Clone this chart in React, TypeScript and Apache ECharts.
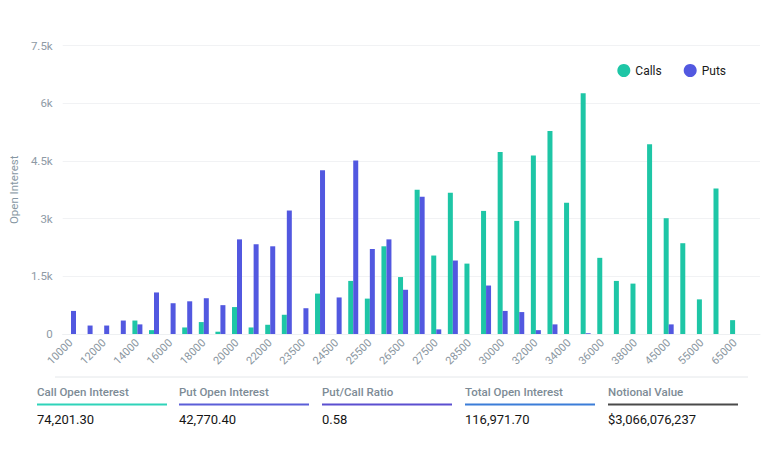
import React, { useEffect, useRef } from "react";
import * as echarts from "echarts";

const strikes = [
  "10000", "11000", "12000", "13000", "14000", "15000", "16000", "17000", "18000", "19000",
  "20000", "21000", "22000", "23000", "23500", "24000", "24500", "25000", "25500", "26000",
  "26500", "27000", "27500", "28000", "28500", "29000", "30000", "31000", "32000", "33000",
  "34000", "35000", "36000", "37000", "38000", "40000", "45000", "50000", "55000", "60000",
  "65000",
];

const callsOI = [
  0, 0, 0, 0, 350, 100, 0, 170, 310, 60,
  700, 170, 240, 500, 0, 1050, 0, 1380, 920, 2280,
  1480, 3750, 2040, 3670, 1830, 3200, 4730, 2940, 4640, 5280,
  3410, 6260, 1980, 1380, 1310, 4930, 3010, 2360, 900, 3780,
  360,
];

const putsOI = [
  600, 220, 220, 350, 250, 1080, 800, 850, 930, 750,
  2460, 2330, 2280, 3210, 670, 4260, 950, 4510, 2210, 2460,
  1150, 3570, 120, 1910, 0, 1260, 600, 570, 100, 250,
  0, 20, 0, 0, 0, 0, 250, 0, 0, 0,
  0,
];

const yTicks = [0, 1500, 3000, 4500, 6000, 7500];

const statLabels = ["Call Open Interest", "Put Open Interest", "Put/Call Ratio", "Total Open Interest", "Notional Value"];
const statValues = ["74,201.30", "42,770.40", "0.58", "116,971.70", "$3,066,076,237"];
const statColors = ["#2fd3b9", "#5b5ed8", "#5b4fd0", "#3b7dd8", "#4a4a4a"];

const CALL_COLOR = "#1ec6a6";
const PUT_COLOR = "#5258e0";

export default function App() {
  const ref = useRef<HTMLDivElement>(null);

  useEffect(() => {
    if (!ref.current) return;
    const chart = echarts.init(ref.current, undefined, { renderer: "svg" });

    const fmt = (v: number) => (v === 0 ? "0" : `${v / 1000}k`);
    const colX = [37, 179, 322, 465, 608];

    const graphics: any[] = [
      {
        type: "line",
        shape: { x1: 55, y1: 377, x2: 748, y2: 377 },
        style: { stroke: "#e4e7ea", lineWidth: 1 },
      },
    ];
    statLabels.forEach((lab, i) => {
      graphics.push({
        type: "text",
        x: colX[i],
        y: 392,
        style: {
          text: lab,
          fill: "#7d8b96",
          font: "500 11.5px Roboto",
          textVerticalAlign: "middle",
          textAlign: "left",
        },
      });
      graphics.push({
        type: "line",
        shape: { x1: colX[i], y1: 404.5, x2: colX[i] + 130, y2: 404.5 },
        style: { stroke: statColors[i], lineWidth: 2 },
      });
      graphics.push({
        type: "text",
        x: colX[i],
        y: 419.5,
        style: {
          text: statValues[i],
          fill: "#151515",
          font: "13px Roboto",
          textVerticalAlign: "middle",
          textAlign: "left",
        },
      });
    });

    chart.setOption({
      animation: false,
      backgroundColor: "#ffffff",
      textStyle: { fontFamily: "Roboto" },
      legend: {
        top: 59,
        right: 37,
        icon: "circle",
        itemWidth: 13,
        itemHeight: 13,
        itemGap: 22,
        textStyle: { color: "#1a1a1a", fontSize: 12, fontWeight: "normal", fontFamily: "Roboto" },
        data: ["Calls", "Puts"],
      },
      grid: { left: 57.6, right: 8, top: 45.5, bottom: 129, containLabel: false },
      xAxis: {
        type: "category",
        data: [...strikes, ""],
        axisLine: { show: true, lineStyle: { color: "#eef0f2" } },
        axisTick: { show: false },
        axisLabel: {
          rotate: 45,
          interval: (idx: number) => idx % 2 === 0 && idx < strikes.length,
          color: "#8a96a0",
          fontSize: 11,
          margin: 7,
          fontFamily: "Roboto",
        },
      },
      yAxis: {
        type: "value",
        min: 0,
        max: yTicks[yTicks.length - 1],
        interval: 1500,
        name: "Open Interest",
        nameLocation: "middle",
        nameGap: 40,
        nameTextStyle: { color: "#8797a3", fontSize: 11.5, fontFamily: "Roboto" },
        axisLabel: { formatter: fmt, color: "#8e9aa5", fontSize: 11.5, margin: 10, fontFamily: "Roboto" },
        splitLine: { lineStyle: { color: "#f1f2f4" } },
        axisLine: { show: false },
        axisTick: { show: false },
      },
      series: [
        {
          name: "Calls",
          type: "bar",
          data: callsOI,
          barWidth: 5,
          barGap: "0%",
          itemStyle: { color: CALL_COLOR },
        },
        {
          name: "Puts",
          type: "bar",
          data: putsOI,
          barWidth: 5,
          barGap: "0%",
          itemStyle: { color: PUT_COLOR },
        },
      ],
      graphic: graphics,
    });

    return () => chart.dispose();
  }, []);

  return (
    <div
      ref={ref}
      style={{ position: "fixed", left: 0, top: 0, width: 768, height: 463, background: "#fff" }}
    />
  );
}
